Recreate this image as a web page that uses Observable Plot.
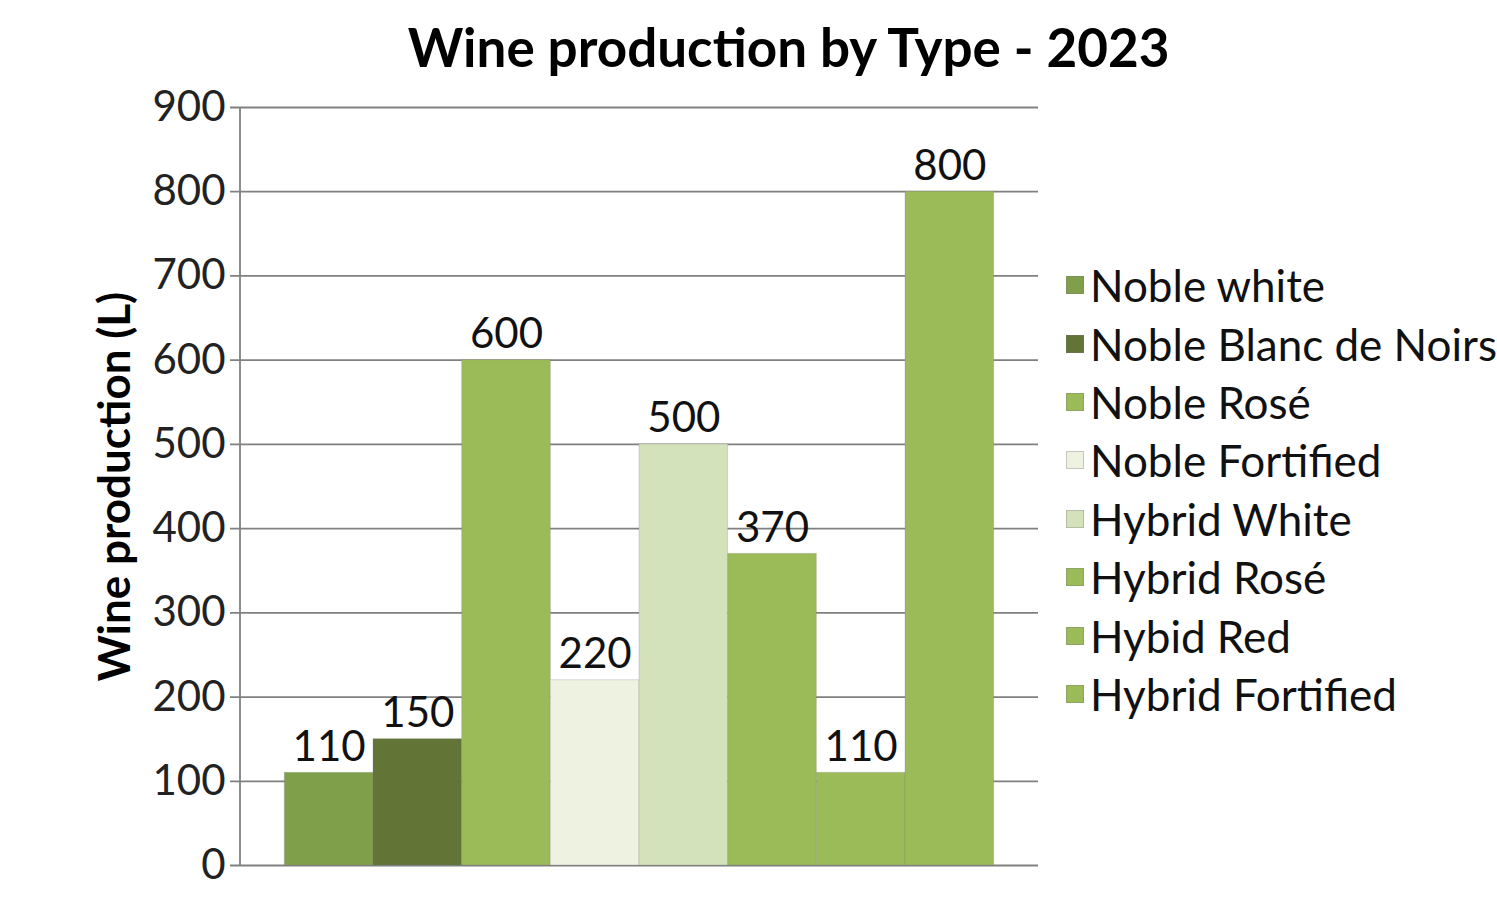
<!DOCTYPE html>
<html>
<head>
<meta charset="utf-8">
<script src="https://cdn.jsdelivr.net/npm/d3@7"></script>
<script src="https://cdn.jsdelivr.net/npm/@observablehq/plot@0.6"></script>
<style>
  html, body { margin: 0; padding: 0; background: #fff; }
  body { width: 1497px; height: 901px; position: relative; overflow: hidden; font-family: Lato, "Open Sans", sans-serif; }
  #title { position: absolute; left: 0; top: 14px; width: 1497px; padding-left: 80px; box-sizing: border-box; text-align: center; font-weight: bold; font-size: 53px; color: #000; line-height: 66px; }
  #chart { position: absolute; left: 0; top: 80px; }
  #legend { position: absolute; left: 1066px; top: 256px; }
  .row { display: flex; align-items: center; height: 58.4px; font-size: 44px; color: #111; }
  .sw { width: 18px; height: 18px; margin-right: 6px; box-sizing: border-box; border: 1px solid rgba(120,120,120,0.35); }
</style>
</head>
<body>
<div id="title">Wine production by Type - 2023</div>
<div id="chart"></div>
<div id="legend"></div>
<script>
const types = ["Noble white", "Noble Blanc de Noirs", "Noble Rosé", "Noble Fortified", "Hybrid White", "Hybrid Rosé", "Hybid Red", "Hybrid Fortified"];
const production = [110, 150, 600, 220, 500, 370, 110, 800];
const colors = ["#809F4B", "#627436", "#9BBB59", "#EEF2E1", "#D4E2BB", "#9BBB59", "#9BBB59", "#9BBB59"];
const yTicks = [0, 100, 200, 300, 400, 500, 600, 700, 800, 900];
const yLabel = "Wine production (L)";

const data = types.map((t, i) => ({type: t, value: production[i]}));

const plot = Plot.plot({
  width: 1497,
  height: 821,
  marginTop: 27,
  marginBottom: 36,
  marginLeft: 240,
  marginRight: 459,
  style: {fontFamily: "Lato, 'Open Sans', sans-serif", background: "transparent"},
  x: {type: "band", domain: types, paddingInner: 0, paddingOuter: 0.5, round: false, axis: null},
  y: {domain: [0, 900], ticks: yTicks, label: null},
  color: {domain: types, range: colors},
  marks: [
    Plot.ruleY(yTicks, {stroke: "#808080", strokeWidth: 1.8, insetLeft: -10}),
    Plot.axisY({ticks: yTicks, tickSize: 0, tickPadding: 15, fontSize: 42, fill: "#222", label: null}),
    Plot.barY(data, {x: "type", y: "value", fill: "type", stroke: "#7a7a7a", strokeOpacity: 0.25, strokeWidth: 1}),
    Plot.text(data, {x: "type", y: "value", text: d => String(d.value), lineAnchor: "bottom", dy: -12, fontSize: 42, fill: "#111"}),
    Plot.text([yLabel], {frameAnchor: "left", textAnchor: "middle", rotate: -90, dx: -125, fontSize: 44, fontWeight: "bold", fill: "#000"})
  ]
});

document.getElementById("chart").appendChild(plot);

// left axis line, positioned with the plot's own y scale
const ys = plot.scale("y");
d3.select(plot).append("line")
  .attr("x1", 240).attr("x2", 240)
  .attr("y1", ys.apply(900)).attr("y2", ys.apply(0))
  .attr("stroke", "#808080").attr("stroke-width", 1.8);

const legend = d3.select("#legend");
types.forEach((t, i) => {
  const row = legend.append("div").attr("class", "row");
  row.append("div").attr("class", "sw").style("background", colors[i]);
  row.append("span").text(t);
});
</script>
</body>
</html>
